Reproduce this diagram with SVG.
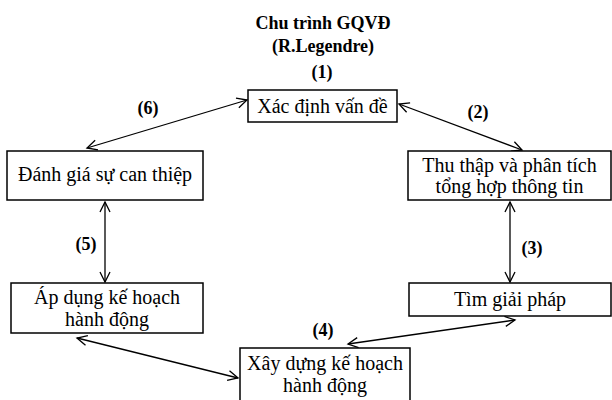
<svg xmlns="http://www.w3.org/2000/svg" width="612" height="400" viewBox="0 0 612 400">
<style>
.box{fill:#fff;stroke:#000;stroke-width:1.5}
.t{font-family:"Liberation Serif","Times New Roman",serif;font-size:20px;fill:#000;text-anchor:middle}
.b{font-family:"Liberation Serif","Times New Roman",serif;font-size:18px;font-weight:bold;fill:#000;text-anchor:middle}
.c{stroke:#000;stroke-width:1.3;fill:none;marker-start:url(#ah);marker-end:url(#ah)}
</style>
<defs>
<marker id="ah" markerWidth="14" markerHeight="14" refX="11" refY="7" orient="auto-start-reverse" markerUnits="userSpaceOnUse">
<path d="M1,2 L11,7 L1,12" fill="none" stroke="#000" stroke-width="1.3"/>
</marker>
</defs>
<rect width="612" height="400" fill="#fff"/>
<g id="title">
<text class="b" x="323" y="29">Chu trình GQVĐ</text>
<text class="b" x="323" y="52">(R.Legendre)</text>
</g>
<g id="connectors">
<line class="c" x1="87" y1="148" x2="247" y2="100"/>
<line class="c" x1="399" y1="104" x2="522" y2="150"/>
<line class="c" x1="510" y1="202" x2="510" y2="282"/>
<line class="c" x1="105" y1="202" x2="105" y2="282"/>
<line class="c" x1="348" y1="344" x2="515" y2="320"/>
<line class="c" x1="77" y1="338" x2="238" y2="378"/>
<text class="b" x="322" y="78">(1)</text>
<text class="b" x="478" y="118">(2)</text>
<text class="b" x="532" y="254">(3)</text>
<text class="b" x="323" y="336">(4)</text>
<text class="b" x="86" y="250">(5)</text>
<text class="b" x="148" y="114">(6)</text>
</g>
<g id="n1">
<rect class="box" x="248" y="90" width="149" height="32"/>
<text class="t" x="322.5" y="113">Xác định vấn đề</text>
</g>
<g id="n2">
<rect class="box" x="408" y="151" width="203" height="49"/>
<text class="t" x="509.5" y="172">Thu thập và phân tích</text>
<text class="t" x="509.5" y="193">tổng hợp thông tin</text>
</g>
<g id="n3">
<rect class="box" x="409" y="283" width="202" height="33"/>
<text class="t" x="510" y="306">Tìm giải pháp</text>
</g>
<g id="n4">
<rect class="box" x="240" y="348" width="170" height="60"/>
<text class="t" x="325" y="370">Xây dựng kế hoạch</text>
<text class="t" x="325" y="392">hành động</text>
</g>
<g id="n5">
<rect class="box" x="11" y="283" width="192" height="50"/>
<text class="t" x="107" y="304">Áp dụng kế hoạch</text>
<text class="t" x="107" y="326">hành động</text>
</g>
<g id="n6">
<rect class="box" x="7" y="151" width="196" height="49"/>
<text class="t" x="105" y="181">Đánh giá sự can thiệp</text>
</g>
</svg>
